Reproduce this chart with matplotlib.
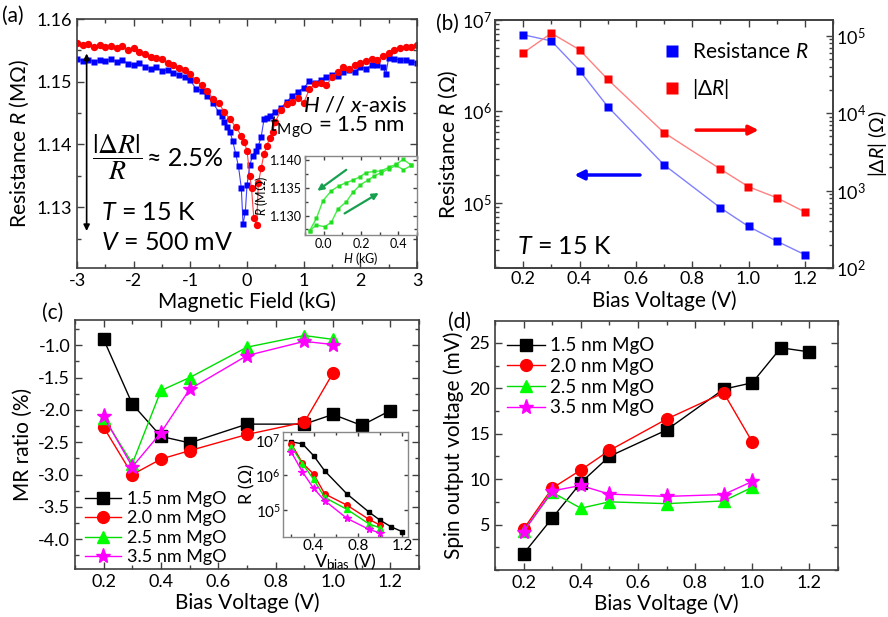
import matplotlib
matplotlib.use('Agg')
import matplotlib.pyplot as plt
from matplotlib.ticker import MultipleLocator, LogLocator, NullFormatter, FormatStrFormatter, NullLocator
from matplotlib.lines import Line2D

plt.rcParams.update({
    'font.family': ['Lato', 'DejaVu Sans'],
    'mathtext.fontset': 'custom',
    'mathtext.rm': 'Lato',
    'mathtext.it': 'Lato:italic',
    'mathtext.bf': 'Lato:bold',
    'axes.unicode_minus': False,
})

# ---------------- data: panel (a) ----------------
H_blue = [-3.0, -2.9, -2.8, -2.7, -2.6, -2.5, -2.4, -2.3, -2.2, -2.1, -2.0, -1.9, -1.8, -1.7, -1.6,
          -1.5, -1.4, -1.3, -1.2, -1.1, -1.0, -0.9, -0.8, -0.7, -0.6, -0.5, -0.45, -0.4, -0.35,
          -0.3, -0.25, -0.2, -0.15, -0.1, -0.07, -0.03, 0.0, 0.05, 0.1, 0.15, 0.2, 0.25, 0.3,
          0.35, 0.4, 0.5, 0.6, 0.7, 0.8, 0.9, 1.0, 1.1, 1.2, 1.3, 1.4, 1.5, 1.6, 1.7, 1.8, 1.9,
          2.0, 2.1, 2.2, 2.3, 2.4, 2.45, 2.5, 2.6, 2.7, 2.8, 2.9, 3.0]
R_blue = [1.1537, 1.1533, 1.1535, 1.1532, 1.1534, 1.1533, 1.1536, 1.1532, 1.1534, 1.1529, 1.1527,
          1.1530, 1.1524, 1.1521, 1.1523, 1.1517, 1.1519, 1.1514, 1.1511, 1.1507, 1.1502, 1.1489,
          1.1486, 1.1478, 1.1466, 1.1452, 1.1445, 1.1436, 1.1428, 1.1420, 1.1405, 1.1385, 1.1365,
          1.1330, 1.1273, 1.1292, 1.1335, 1.1368, 1.1382, 1.1390, 1.1398, 1.1412, 1.1440, 1.1442,
          1.1445, 1.1452, 1.1458, 1.1468, 1.1477, 1.1484, 1.1490, 1.1501, 1.1498, 1.1503, 1.1508,
          1.1510, 1.1509, 1.1516, 1.1519, 1.1516, 1.1523, 1.1521, 1.1526, 1.1527, 1.1524, 1.1512,
          1.1538, 1.1536, 1.1535, 1.1534, 1.1532, 1.1530]
H_red = [-3.0, -2.9, -2.8, -2.7, -2.6, -2.5, -2.4, -2.3, -2.2, -2.1, -2.0, -1.9, -1.8, -1.7, -1.6,
         -1.5, -1.4, -1.3, -1.2, -1.1, -1.0, -0.9, -0.8, -0.7, -0.6, -0.5, -0.4, -0.3, -0.2, -0.1,
         -0.05, 0.0, 0.05, 0.08, 0.12, 0.17, 0.2, 0.25, 0.3, 0.35, 0.4, 0.45, 0.5, 0.6, 0.7, 0.8,
         0.9, 1.0, 1.1, 1.2, 1.3, 1.4, 1.5, 1.6, 1.7, 1.8, 1.9, 2.0, 2.1, 2.2, 2.3, 2.4, 2.5, 2.6,
         2.7, 2.8, 2.9, 3.0]
R_red = [1.1562, 1.1558, 1.1560, 1.1556, 1.1559, 1.1555, 1.1557, 1.1554, 1.1557, 1.1550, 1.1553,
         1.1547, 1.1544, 1.1540, 1.1538, 1.1536, 1.1530, 1.1527, 1.1522, 1.1518, 1.1512, 1.1502,
         1.1494, 1.1486, 1.1472, 1.1466, 1.1452, 1.1440, 1.1428, 1.1414, 1.1404, 1.1390, 1.1350,
         1.1330, 1.1282, 1.1271, 1.1338, 1.1362, 1.1385, 1.1398, 1.1410, 1.1420, 1.1436, 1.1455,
         1.1464, 1.1468, 1.1474, 1.1466, 1.1488, 1.1496, 1.1498, 1.1494, 1.1507, 1.1515, 1.1523,
         1.1521, 1.1526, 1.1530, 1.1533, 1.1537, 1.1535, 1.1541, 1.1545, 1.1550, 1.1553, 1.1556,
         1.1555, 1.1559]

# inset (a): hysteresis loop
H_down = [0.47, 0.427, 0.388, 0.352, 0.308, 0.268, 0.228, 0.192, 0.156, 0.121, 0.082, 0.041,
          -0.004, -0.039, -0.075]
R_down = [1.1391, 1.1402, 1.1393, 1.1388, 1.1381, 1.1380, 1.1378, 1.1370, 1.1364, 1.1360,
          1.1354, 1.1345, 1.1327, 1.1295, 1.1273]
H_up = [-0.075, -0.039, 0.005, 0.041, 0.076, 0.121, 0.156, 0.197, 0.236, 0.272, 0.308, 0.352,
        0.388, 0.427, 0.47]
R_up = [1.1273, 1.1283, 1.1280, 1.1288, 1.1312, 1.1325, 1.1342, 1.1356, 1.1364, 1.1372, 1.1378,
        1.1385, 1.1391, 1.1383, 1.1391]

# ---------------- data: panel (b) ----------------
V_b = [0.2, 0.3, 0.4, 0.5, 0.7, 0.9, 1.0, 1.1, 1.2]
R_b = [6.9e6, 5.9e6, 2.8e6, 1.13e6, 2.6e5, 8.8e4, 5.5e4, 3.8e4, 2.7e4]
dR_b = [6.0e4, 1.08e5, 6.6e4, 2.74e4, 5.6e3, 1.9e3, 1.12e3, 8.1e2, 5.3e2]

# ---------------- data: panels (c), (d) ----------------
V_15 = [0.2, 0.3, 0.4, 0.5, 0.7, 0.9, 1.0, 1.1, 1.2]
V_x = [0.2, 0.3, 0.4, 0.5, 0.7, 0.9, 1.0]
labels = ['1.5 nm MgO', '2.0 nm MgO', '2.5 nm MgO', '3.5 nm MgO']

MR_15 = [-0.91, -1.91, -2.41, -2.51, -2.22, -2.22, -2.07, -2.24, -2.01]
MR_20 = [-2.27, -3.00, -2.76, -2.63, -2.38, -2.19, -1.43]
MR_25 = [-2.12, -2.83, -1.70, -1.50, -1.03, -0.85, -0.91]
MR_35 = [-2.10, -2.88, -2.35, -1.68, -1.16, -0.94, -0.99]

Rin_15 = [8.9e6, 7.8e6, 3.6e6, 1.32e6, 2.9e5, 8.7e4, 5.1e4, 3.3e4, 2.4e4]
Rin_20 = [7.8e6, 2.2e6, 1.07e6, 2.9e5, 1.38e5, 5.4e4, 3.7e4]
Rin_25 = [6.5e6, 2.1e6, 7.6e5, 2.3e5, 1.05e5, 4.0e4, 3.1e4]
Rin_35 = [4.5e6, 1.23e6, 4.2e5, 1.86e5, 5.8e4, 2.8e4, 2.2e4]

SV_15 = [1.8, 5.7, 9.6, 12.5, 15.4, 19.9, 20.6, 24.45, 24.0]
SV_20 = [4.5, 9.0, 11.0, 13.15, 16.6, 19.5, 14.1]
SV_25 = [4.3, 8.55, 6.8, 7.5, 7.3, 7.6, 9.1]
SV_35 = [4.2, 8.7, 9.3, 8.35, 8.1, 8.3, 9.75]

W, Hpx = 888, 617


def prect(l, t, r, b):
    return [l / W, 1 - b / Hpx, (r - l) / W, (b - t) / Hpx]


def style(ax, fs=13, major=5, minor=3, right=True, pad=3.5):
    ax.tick_params(which='both', direction='in', top=True, right=right, labelsize=fs, width=1,
                   color='#404040', pad=pad)
    ax.tick_params(which='major', length=major)
    ax.tick_params(which='minor', length=minor)
    for s in ax.spines.values():
        s.set_color('#404040')
        s.set_linewidth(1.2)


fig = plt.figure(figsize=(W / 100, Hpx / 100), dpi=100)

# ======================= (a) =======================
axa = fig.add_axes(prect(77, 19, 417, 268))
axa.plot(H_blue, R_blue, '-', color='#4040ff', lw=0.8, marker='s', ms=4.4, mfc='#0000ff', mec='none')
axa.plot(H_red, R_red, '-', color='#ff4040', lw=0.8, marker='o', ms=5.3, mfc='#ff0000', mec='none')
axa.set_xlim(-3, 3)
axa.set_ylim(1.1203, 1.16)
axa.set_xticks([-3, -2, -1, 0, 1, 2, 3])
axa.xaxis.set_minor_locator(MultipleLocator(0.5))
axa.set_yticks([1.13, 1.14, 1.15, 1.16])
axa.yaxis.set_minor_locator(MultipleLocator(0.005))
axa.yaxis.set_major_formatter(FormatStrFormatter('%.2f'))
style(axa)
axa.set_xlabel('Magnetic Field (kG)', fontsize=15, labelpad=2)
axa.set_ylabel('Resistance $R$ (MΩ)', fontsize=15, labelpad=4)
fig.text(2 / W, 1 - 16 / Hpx, '(a)', fontsize=15, va='center', ha='left')

axa.annotate('', xy=(-2.83, 1.1262), xytext=(-2.83, 1.1545),
             arrowprops=dict(arrowstyle='<|-|>', color='black', lw=1.2, mutation_scale=9,
                             shrinkA=0, shrinkB=0))
fig.text(117 / W, 1 - 157 / Hpx, r'$\dfrac{|\Delta R|}{R}$', fontsize=20, ha='center', va='center',
         math_fontfamily='stix')
fig.text(147 / W, 1 - 159 / Hpx, '≈ 2.5%', fontsize=18, ha='left', va='center')
fig.text(101 / W, 1 - 213 / Hpx, '$T$ = 15 K', fontsize=18, ha='left', va='center')
fig.text(101 / W, 1 - 242 / Hpx, '$V$ = 500 mV', fontsize=18, ha='left', va='center')
fig.text(407 / W, 1 - 105 / Hpx, '$H$ // $x$-axis', fontsize=16, ha='right', va='center')
fig.text(405 / W, 1 - 127 / Hpx, r'$t_{\mathrm{MgO}}$ = 1.5 nm', fontsize=16, ha='right', va='center')

# inset (a)
axia = fig.add_axes(prect(305, 156, 417, 235))
axia.plot(H_down, R_down, '-', color='#44ee44', lw=1, marker='s', ms=3.2, mfc='#22dd22', mec='none')
axia.plot(H_up, R_up, '-', color='#44ee44', lw=1, marker='s', ms=3.2, mfc='#22dd22', mec='none')
axia.set_xlim(-0.1, 0.5)
axia.set_ylim(1.1265, 1.1408)
axia.set_xticks([0.0, 0.2, 0.4])
axia.xaxis.set_minor_locator(MultipleLocator(0.1))
axia.set_yticks([1.130, 1.135, 1.140])
axia.yaxis.set_minor_locator(MultipleLocator(0.0025))
axia.xaxis.set_major_formatter(FormatStrFormatter('%.1f'))
axia.yaxis.set_major_formatter(FormatStrFormatter('%.3f'))
style(axia, fs=9, major=3, minor=2, pad=2)
for s in axia.spines.values():
    s.set_color('#888888')
    s.set_linewidth(1.0)
axia.set_xlabel('$H$ (kG)', fontsize=9, labelpad=0)
axia.set_ylabel('$R$ (MΩ)', fontsize=9, labelpad=0)
axia.annotate('', xy=(-0.034, 1.1345), xytext=(0.121, 1.1383),
              arrowprops=dict(arrowstyle='-|>', color='#18a050', lw=1.6, mutation_scale=9,
                              shrinkA=0, shrinkB=0))
axia.annotate('', xy=(0.295, 1.1341), xytext=(0.112, 1.1304),
              arrowprops=dict(arrowstyle='-|>', color='#18a050', lw=1.6, mutation_scale=9,
                              shrinkA=0, shrinkB=0))

# ======================= (b) =======================
axb = fig.add_axes(prect(495, 20, 833, 268))
axb.set_yscale('log')
axb.plot(V_b, R_b, '-', color='#8080ff', lw=1, marker='s', ms=6, mfc='#0000ff', mec='none')
axb.set_xlim(0.1, 1.3)
axb.set_ylim(1.93e4, 1e7)
axb.set_xticks([0.2, 0.4, 0.6, 0.8, 1.0, 1.2])
axb.xaxis.set_minor_locator(MultipleLocator(0.1))
axb.xaxis.set_major_formatter(FormatStrFormatter('%.1f'))
axb.yaxis.set_minor_locator(LogLocator(base=10, subs=range(2, 10)))
axb.yaxis.set_minor_formatter(NullFormatter())
style(axb, right=False, pad=2.5)
ax2 = axb.twinx()
ax2.set_yscale('log')
ax2.plot(V_b, dR_b, '-', color='#ff8080', lw=1, marker='s', ms=6, mfc='#ff0000', mec='none')
ax2.set_ylim(100, 1.6e5)
ax2.yaxis.set_minor_locator(LogLocator(base=10, subs=range(2, 10)))
ax2.yaxis.set_minor_formatter(NullFormatter())
ax2.tick_params(which='both', direction='in', labelsize=13, width=1, color='#404040', pad=2)
ax2.tick_params(which='major', length=5)
ax2.tick_params(which='minor', length=3)
for s in ax2.spines.values():
    s.set_color('#404040')
    s.set_linewidth(1.2)
axb.set_xlabel('Bias Voltage (V)', fontsize=15, labelpad=2)
axb.set_ylabel('Resistance $R$ (Ω)', fontsize=15, labelpad=1)
ax2.set_ylabel(r'$|\Delta R|$ (Ω)', fontsize=14)
ax2.yaxis.set_label_coords(1.097, 0.5)
fig.text(436 / W, 1 - 24 / Hpx, '(b)', fontsize=15, va='center', ha='left')

hb = [Line2D([], [], ls='none', marker='s', ms=9, mfc='#0000ff', mec='none'),
      Line2D([], [], ls='none', marker='s', ms=9, mfc='#ff0000', mec='none')]
axb.legend(hb, ['Resistance $R$', r'$|\Delta R|$'], loc='upper left', bbox_to_anchor=(0.43, 0.985),
           frameon=False, fontsize=15, handletextpad=0.4, labelspacing=0.7, handlelength=1.2)
axb.annotate('', xy=(0.78, 0.556), xytext=(0.595, 0.556), xycoords='axes fraction',
             arrowprops=dict(arrowstyle='-|>', color='#ff0000', lw=2.5, mutation_scale=14,
                             shrinkA=0, shrinkB=0))
axb.annotate('', xy=(0.235, 0.375), xytext=(0.429, 0.375), xycoords='axes fraction',
             arrowprops=dict(arrowstyle='-|>', color='#0000ff', lw=2.5, mutation_scale=14,
                             shrinkA=0, shrinkB=0))
axb.text(0.065, 0.088, '$T$ = 15 K', transform=axb.transAxes, fontsize=18, va='center', ha='left')

# ======================= (c) =======================
colors = ['#000000', '#ff0000', '#00ff00', '#ff00ff']
lcols = ['#000000', '#ff0000', '#00dd00', '#ff00ff']
markers = ['s', 'o', '^', '*']
msz = [8, 8.5, 9, 11]

axc = fig.add_axes(prect(75, 320, 419, 569))
for (vx, y), c, lc, m, s, lab in zip([(V_15, MR_15), (V_x, MR_20), (V_x, MR_25), (V_x, MR_35)],
                                     colors, lcols, markers, msz, labels):
    axc.plot(vx, y, '-', color=lc, lw=1, marker=m, ms=s, mfc=c, mec=c, label=lab)
axc.set_xlim(0.1, 1.3)
axc.set_ylim(-4.46, -0.61)
axc.set_xticks([0.2, 0.4, 0.6, 0.8, 1.0, 1.2])
axc.xaxis.set_minor_locator(MultipleLocator(0.1))
axc.xaxis.set_major_formatter(FormatStrFormatter('%.1f'))
axc.set_yticks([-4.0, -3.5, -3.0, -2.5, -2.0, -1.5, -1.0])
axc.yaxis.set_minor_locator(MultipleLocator(0.25))
axc.yaxis.set_major_formatter(FormatStrFormatter('%.1f'))
style(axc)
axc.set_xlabel('Bias Voltage (V)', fontsize=15, labelpad=2)
axc.set_ylabel('MR ratio (%)', fontsize=15, labelpad=4)
axc.legend(loc='lower left', bbox_to_anchor=(0.029, 0.015), frameon=False, fontsize=13,
           handlelength=2.0, handletextpad=0.3, labelspacing=0.19, borderaxespad=0, borderpad=0)
fig.text(42 / W, 1 - 313 / Hpx, '(c)', fontsize=15, va='center', ha='left')

# inset (c)
axic = fig.add_axes(prect(283, 432, 408, 537))
axic.set_yscale('log')
for (vx, y), c, lc, m, s in zip([(V_15, Rin_15), (V_x, Rin_20), (V_x, Rin_25), (V_x, Rin_35)],
                                colors, lcols, markers, [3.5, 4, 4.5, 5.5]):
    axic.plot(vx, y, '-', color=lc, lw=1, marker=m, ms=s, mfc=c, mec=c)
axic.set_xlim(0.125, 1.25)
axic.set_ylim(1.7e4, 1.7e7)
axic.set_xticks([0.4, 0.8, 1.2])
axic.xaxis.set_minor_locator(MultipleLocator(0.2))
axic.xaxis.set_major_formatter(FormatStrFormatter('%.1f'))
axic.yaxis.set_minor_locator(NullLocator())
style(axic, fs=11, major=3, minor=2, pad=1.5)
for s in axic.spines.values():
    s.set_color('#888888')
    s.set_linewidth(1.0)
axic.set_xlabel(r'V$_{\mathrm{bias}}$ (V)', fontsize=13, labelpad=-1)
axic.set_ylabel('R (Ω)', fontsize=13, labelpad=0)

# ======================= (d) =======================
axd = fig.add_axes(prect(495, 321, 838, 570))
for (vx, y), c, lc, m, s, lab in zip([(V_15, SV_15), (V_x, SV_20), (V_x, SV_25), (V_x, SV_35)],
                                     colors, lcols, markers, msz, labels):
    axd.plot(vx, y, '-', color=lc, lw=1, marker=m, ms=s, mfc=c, mec=c, label=lab)
axd.set_xlim(0.1, 1.3)
axd.set_ylim(0, 27.4)
axd.set_xticks([0.2, 0.4, 0.6, 0.8, 1.0, 1.2])
axd.xaxis.set_minor_locator(MultipleLocator(0.1))
axd.xaxis.set_major_formatter(FormatStrFormatter('%.1f'))
axd.set_yticks([5, 10, 15, 20, 25])
axd.yaxis.set_minor_locator(MultipleLocator(2.5))
style(axd)
axd.set_xlabel('Bias Voltage (V)', fontsize=15, labelpad=2)
axd.set_ylabel('Spin output voltage (mV)', fontsize=15, labelpad=4)
axd.legend(loc='upper left', bbox_to_anchor=(0.035, 0.935), frameon=False, fontsize=13.5,
           handlelength=2.0, handletextpad=0.3, labelspacing=0.2, borderaxespad=0, borderpad=0)
fig.text(448 / W, 1 - 322 / Hpx, '(d)', fontsize=15, va='center', ha='left')

fig.savefig('out.png', dpi=100)
